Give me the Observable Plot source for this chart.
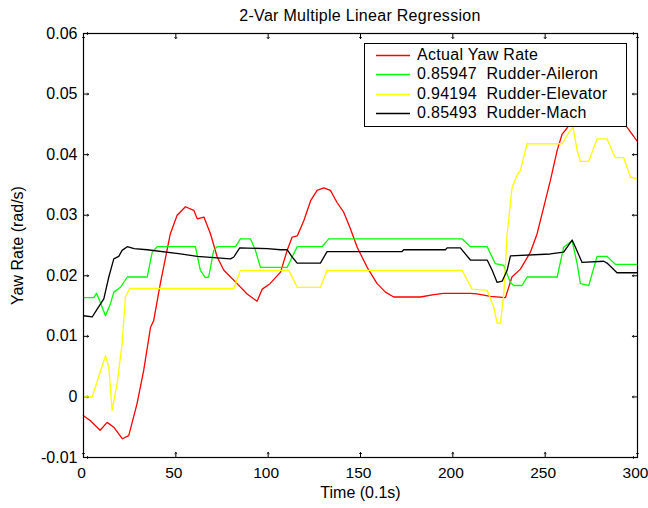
<!DOCTYPE html>
<html>
<head>
<meta charset="utf-8">
<script src="https://cdn.jsdelivr.net/npm/d3@7"></script>
<script src="https://cdn.jsdelivr.net/npm/@observablehq/plot@0.6"></script>
<style>
  body { margin: 0; background: white; }
  #wrap { position: relative; width: 648px; height: 508px; background: white; font-family: "Liberation Sans", Arial, sans-serif; }
  #title { position: absolute; left: 83px; width: 554px; top: 6px; text-align: center; font-size: 16px; letter-spacing: 0.3px; line-height: 20px; color: #000; }
  #legend { position: absolute; left: 364px; top: 43px; width: 261px; height: 82px; border: 1px solid #000; background: white; font-size: 16px; letter-spacing: 0.3px; }
  .row { position: absolute; left: 0; height: 20px; width: 100%; }
  .row svg { position: absolute; left: 11px; top: 0; }
  .row span { position: absolute; left: 52px; top: 0; line-height: 20px; white-space: pre; color: #000; }
</style>
</head>
<body>
<div id="wrap">
  <div id="title"></div>
  <div id="legend"></div>
</div>
<script>
const titleText = "2-Var Multiple Linear Regression";
const xLabel = "Time (0.1s)";
const yLabel = "Yaw Rate (rad/s)";
const xTicks = [0, 50, 100, 150, 200, 250, 300];
const yTicks = [-0.01, 0, 0.01, 0.02, 0.03, 0.04, 0.05, 0.06];
const seriesNames = ["Actual Yaw Rate", "0.85947  Rudder-Aileron", "0.94194  Rudder-Elevator", "0.85493  Rudder-Mach"];
const seriesColors = ["#ff0000", "#00ff00", "#ffff00", "#000000"];

const actualX = [0, 3.6, 9, 12.8, 16.4, 21, 24.5, 29, 32.6, 36.3, 38, 41.6, 47, 50.7, 55.2, 59.7, 61.6, 65.2, 68.8, 72.4, 76, 83.2, 88.6, 94, 96.8, 101, 106.7, 110.3, 113, 115.8, 119.3, 123, 126.5, 130.1, 133.7, 137.3, 140.9, 144.5, 148.2, 153.6, 159, 163.5, 168, 182.5, 189.7, 195, 209.5, 213, 220.4, 228.5, 232, 236.6, 242, 245.6, 249.2, 252.8, 256.5, 259.2, 261.9, 266, 272, 280, 288, 294.4, 298.9, 300];
const actualY = [-0.0031, -0.0039, -0.0055, -0.0042, -0.005, -0.0069, -0.0064, -0.0011, 0.0044, 0.0115, 0.0126, 0.0187, 0.0269, 0.030, 0.0314, 0.0308, 0.0294, 0.0297, 0.0269, 0.0231, 0.0209, 0.0187, 0.017, 0.0158, 0.0178, 0.0187, 0.0206, 0.0242, 0.0264, 0.0266, 0.0291, 0.0324, 0.0341, 0.0345, 0.0341, 0.0321, 0.0305, 0.0278, 0.0247, 0.0214, 0.0187, 0.0173, 0.0165, 0.0165, 0.0169, 0.0171, 0.0171, 0.017, 0.0166, 0.0164, 0.0198, 0.0211, 0.0239, 0.0269, 0.0313, 0.0357, 0.0407, 0.0434, 0.0444, 0.0462, 0.047, 0.0472, 0.0465, 0.0445, 0.0426, 0.0422];

const aileronX = [0, 5.6, 7, 8.3, 11.9, 14.6, 16.4, 20, 23.7, 34.5, 37.2, 39.9, 60.6, 63.3, 66, 67.8, 70.5, 72.4, 82.3, 85, 90.4, 93.1, 95.8, 110.3, 113, 115.7, 129.2, 132.8, 205, 209.5, 218.6, 223, 227.6, 231.2, 233, 237.5, 240.2, 256.5, 260, 264.6, 267.3, 269.1, 273.6, 278.1, 283.5, 288, 300];
const aileronY = [0.0164, 0.0164, 0.0171, 0.0162, 0.0134, 0.0154, 0.0173, 0.0181, 0.0198, 0.0198, 0.0239, 0.0248, 0.0248, 0.0209, 0.0197, 0.0198, 0.0242, 0.0248, 0.0248, 0.0261, 0.0261, 0.0242, 0.0214, 0.0214, 0.0231, 0.0248, 0.0248, 0.0261, 0.0261, 0.0248, 0.0248, 0.022, 0.0217, 0.0189, 0.0184, 0.0184, 0.0198, 0.0198, 0.0247, 0.0258, 0.022, 0.0187, 0.0184, 0.0232, 0.0232, 0.0219, 0.0219];

const elevatorX = [0, 4.7, 11.9, 13.7, 15.5, 18.2, 20.9, 22.7, 25, 81.4, 85, 111.2, 115.7, 128.3, 131.9, 205, 210.4, 218.6, 222.2, 224, 225.8, 227.6, 229.4, 232.1, 234.8, 236.6, 240.2, 259.2, 262.8, 265.1, 267.3, 269.1, 273.6, 278.1, 283.5, 288, 292.5, 296.2, 300];
const elevatorY = [0, 0, 0.0068, 0.0049, -0.0022, 0.0022, 0.0088, 0.0165, 0.0179, 0.0179, 0.0209, 0.0209, 0.0181, 0.0181, 0.0209, 0.0209, 0.0178, 0.0176, 0.0148, 0.0122, 0.0122, 0.017, 0.0269, 0.0346, 0.0366, 0.0374, 0.0418, 0.0418, 0.0437, 0.0445, 0.0407, 0.0389, 0.0389, 0.0426, 0.0426, 0.0395, 0.0395, 0.0363, 0.036];

const machX = [0, 4.7, 7.4, 11, 13.7, 16.4, 19.1, 20.9, 23.7, 27.4, 34.5, 52.5, 61.6, 79.6, 81.4, 84.6, 99.5, 106.7, 110.3, 113, 115.7, 128.3, 131.9, 172.5, 173.4, 196, 196.9, 204.1, 209.5, 218.6, 221.3, 224, 226.7, 229.4, 231.2, 252.8, 260, 264.6, 266.4, 270, 281.7, 283.5, 288.9, 300];
const machY = [0.0134, 0.0132, 0.0145, 0.0162, 0.0198, 0.0228, 0.0232, 0.0242, 0.0248, 0.0245, 0.0243, 0.0236, 0.0232, 0.0228, 0.0231, 0.0246, 0.0245, 0.0243, 0.0243, 0.0231, 0.0221, 0.0221, 0.024, 0.024, 0.0243, 0.0243, 0.0246, 0.0246, 0.0226, 0.0226, 0.0209, 0.0189, 0.0191, 0.0209, 0.0233, 0.0236, 0.0239, 0.0259, 0.0247, 0.0222, 0.0224, 0.0221, 0.0205, 0.0205];

const toRows = (xs, ys) => xs.map((x, i) => ({x, y: ys[i]}));
const series = [toRows(actualX, actualY), toRows(aileronX, aileronY), toRows(elevatorX, elevatorY), toRows(machX, machY)];

const fmtY = d => d === 0 ? "0" : String(+d.toFixed(2));
const tickLen = 5;

const plot = Plot.plot({
  width: 648,
  height: 508,
  marginLeft: 83,
  marginRight: 11,
  marginTop: 33,
  marginBottom: 51,
  style: {fontFamily: "'Liberation Sans', Arial, sans-serif", fontSize: "16px", color: "#000", background: "transparent", overflow: "visible"},
  x: {domain: [0, 300]},
  y: {domain: [-0.01, 0.06]},
  marks: [
    Plot.axisX({ticks: xTicks, tickSize: 0, tickPadding: 9, dx: -2, fontSize: 15.5, tickFormat: d => String(d), label: null}),
    Plot.axisX({ticks: [], tickSize: 0, label: xLabel, labelAnchor: "center", labelArrow: "none", labelOffset: 40}),
    Plot.axisY({ticks: yTicks, tickSize: 0, tickPadding: 6, tickFormat: fmtY, label: yLabel, labelAnchor: "center", labelArrow: "none", labelOffset: 72}),
    Plot.vector(xTicks, {x: d => d, frameAnchor: "bottom", length: tickLen, anchor: "start", rotate: 0, stroke: "#000", strokeWidth: 1}),
    Plot.vector(xTicks, {x: d => d, frameAnchor: "top", length: tickLen, anchor: "start", rotate: 180, stroke: "#000", strokeWidth: 1}),
    Plot.vector(yTicks, {y: d => d, frameAnchor: "left", length: tickLen, anchor: "start", rotate: 90, stroke: "#000", strokeWidth: 1}),
    Plot.vector(yTicks, {y: d => d, frameAnchor: "right", length: tickLen, anchor: "start", rotate: -90, stroke: "#000", strokeWidth: 1}),
    ...series.map((s, i) => Plot.line(s, {x: "x", y: "y", stroke: seriesColors[i], strokeWidth: 1.3, curve: "linear"})),
    Plot.frame({stroke: "#000", strokeWidth: 1.2})
  ]
});
plot.style.position = "absolute";
plot.style.left = "0";
plot.style.top = "0";
const wrap = document.getElementById("wrap");
wrap.insertBefore(plot, wrap.firstChild);

document.getElementById("title").textContent = titleText;
const legend = document.getElementById("legend");
seriesNames.forEach((name, i) => {
  const row = document.createElement("div");
  row.className = "row";
  row.style.top = (1 + i * 19.4) + "px";
  row.innerHTML = `<svg width="34" height="20"><line x1="0" x2="34" y1="10.5" y2="10.5" stroke="${seriesColors[i]}" stroke-width="1.3"/></svg><span></span>`;
  row.querySelector("span").textContent = name;
  legend.appendChild(row);
});
</script>
</body>
</html>
